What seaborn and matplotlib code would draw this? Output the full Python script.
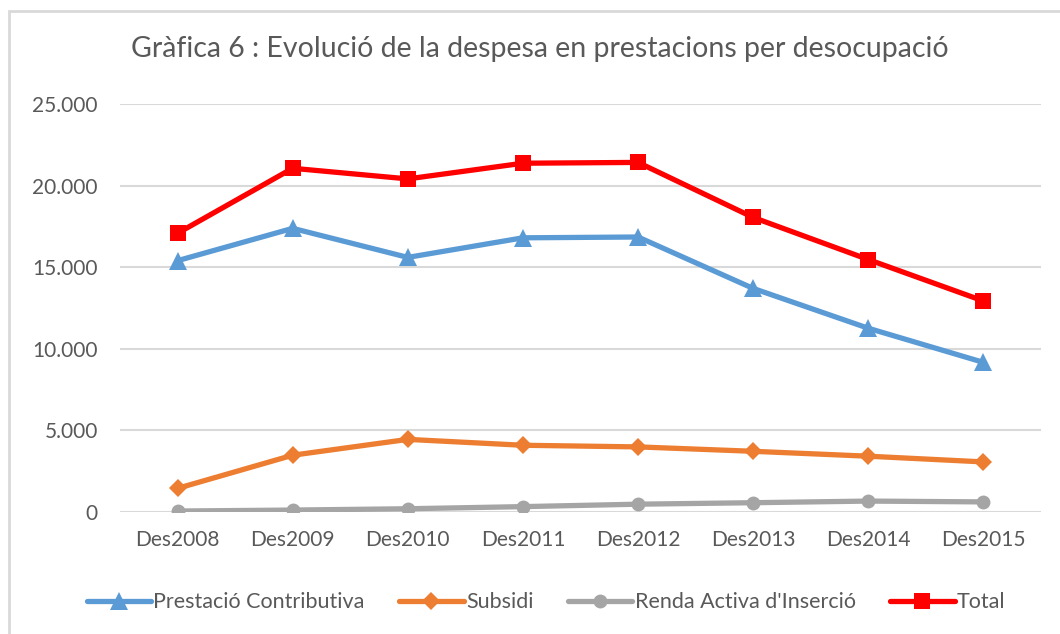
import matplotlib
matplotlib.use("Agg")
import matplotlib.pyplot as plt
import matplotlib.ticker as ticker
from matplotlib.patches import Rectangle
import pandas as pd
import seaborn as sns

# dades llegides del grafic original
anys = ["Des2008", "Des2009", "Des2010", "Des2011", "Des2012", "Des2013", "Des2014", "Des2015"]
prestacio = [15400, 17380, 15600, 16800, 16850, 13700, 11260, 9170]
subsidi = [1450, 3480, 4450, 4090, 3990, 3720, 3420, 3070]
renda = [60, 120, 200, 330, 480, 570, 670, 620]
total = [17080, 21060, 20410, 21370, 21420, 18050, 15470, 12930]

series = ["Prestació Contributiva", "Subsidi", "Renda Activa d'Inserció", "Total"]
colors = ["#5B9BD5", "#ED7D31", "#A5A5A5", "#FF0000"]
markers = ["^", "D", "o", "s"]
msizes = [13, 9, 10, 12]

df = pd.DataFrame({"any": anys, series[0]: prestacio, series[1]: subsidi,
                   series[2]: renda, series[3]: total})
long_df = df.melt(id_vars="any", var_name="serie", value_name="valor")

sns.set_style("white")
plt.rcParams["font.family"] = ["Lato", "DejaVu Sans"]

fig = plt.figure(figsize=(10.6, 6.34), dpi=100)
ax = fig.add_axes([0.1132, 0.1924, 0.8688, 0.6436])

# marc exterior
fig.patches.append(Rectangle((9 / 1060, -0.1), 1.2, 1 - 11 / 634 + 0.1,
                             transform=fig.transFigure, fill=False,
                             edgecolor="#D9D9D9", linewidth=2))

for name, c, m, ms in zip(series, colors, markers, msizes):
    sub = long_df[long_df["serie"] == name]
    sns.lineplot(data=sub, x="any", y="valor", ax=ax, color=c, marker=m,
                 markersize=ms, markeredgewidth=0, linewidth=3.8,
                 label=name, sort=False)

ax.set_xlim(-0.5, 7.5)
ax.set_ylim(0, 25000)
ax.yaxis.set_major_locator(ticker.MultipleLocator(5000))
ax.yaxis.set_major_formatter(ticker.FuncFormatter(
    lambda v, p: "0" if v == 0 else f"{int(v):,}".replace(",", ".")))
ax.grid(axis="y", color="#D9D9D9", linewidth=1.5)
ax.set_axisbelow(True)
for s in ax.spines.values():
    s.set_visible(False)
ax.set_xlabel("")
ax.set_ylabel("")
ax.tick_params(axis="both", length=0, labelsize=15, labelcolor="#595959")
ax.tick_params(axis="y", pad=16)
ax.tick_params(axis="x", pad=13)

fig.text(0.509, 0.922, "Gràfica 6 : Evolució de la despesa en prestacions per desocupació",
         ha="center", va="center", fontsize=20.5, color="#595959")

ax.legend(loc="center", bbox_to_anchor=(0.515, 0.05), bbox_transform=fig.transFigure,
          ncol=4, frameon=False, fontsize=15.5, handlelength=3, handletextpad=0.1,
          columnspacing=1.6, labelcolor="#595959")

fig.savefig("out.png", dpi=100)
